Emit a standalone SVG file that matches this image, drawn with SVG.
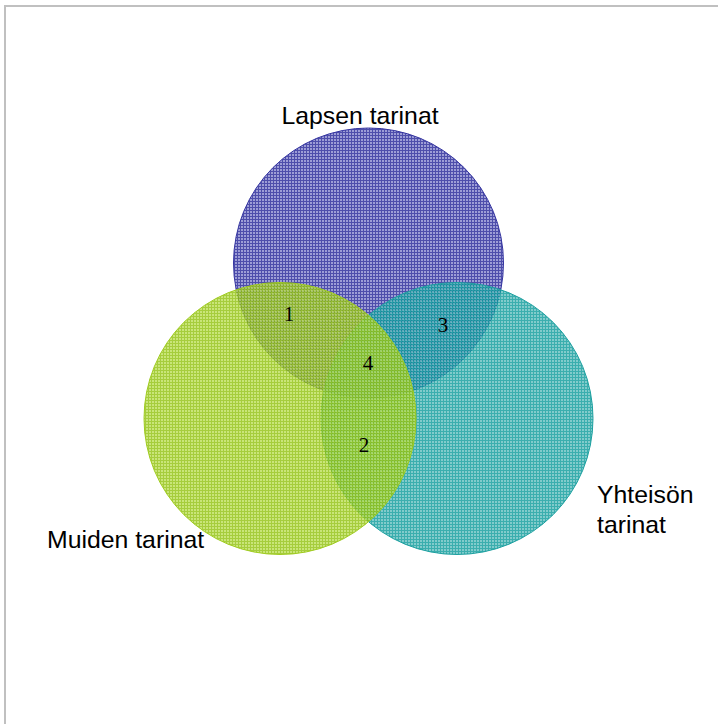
<svg xmlns="http://www.w3.org/2000/svg" width="718" height="724" viewBox="0 0 718 724">
<style>
.lbl{font-family:"Liberation Sans",Arial,sans-serif;font-size:24.8px;fill:#000}
.num{font-family:"Liberation Serif","Times New Roman",serif;font-size:21px;fill:#000;text-anchor:middle}
.c{fill-opacity:0.8;stroke-width:1}
</style>
<defs>
<pattern id="pBlue" width="3" height="3" patternUnits="userSpaceOnUse">
<rect width="3" height="3" fill="#8484cc"/>
<rect width="1" height="3" fill="#222296"/>
<rect width="3" height="1" fill="#222296"/>
</pattern>
<pattern id="pLime" x="1" y="1" width="3" height="3" patternUnits="userSpaceOnUse">
<rect width="3" height="3" fill="#bcdf58"/>
<rect width="1" height="3" fill="#90c00c"/>
<rect width="3" height="1" fill="#90c00c"/>
</pattern>
<pattern id="pTeal" x="2" y="2" width="3" height="3" patternUnits="userSpaceOnUse">
<rect width="3" height="3" fill="#62bebe"/>
<rect width="1" height="3" fill="#0a9a9a"/>
<rect width="3" height="1" fill="#0a9a9a"/>
</pattern>
</defs>
<rect x="0" y="0" width="718" height="724" fill="#fff"/>
<rect x="5" y="6" width="800" height="800" fill="none" stroke="#c0c0c0" stroke-width="2"/>
<g id="lapsen">
<circle class="c" cx="368.5" cy="263" r="135" fill="url(#pBlue)" stroke="#3434a0"/>
<text class="lbl" x="360" y="124" text-anchor="middle">Lapsen tarinat</text>
</g>
<g id="yhteison">
<circle class="c" cx="457" cy="418.5" r="136" fill="url(#pTeal)" stroke="#1ca0a0"/>
<text class="lbl" x="597" y="503">Yhteisön</text>
<text class="lbl" x="597" y="533">tarinat</text>
</g>
<g id="muiden">
<circle class="c" cx="280" cy="418.5" r="136" fill="url(#pLime)" stroke="#a0cc20"/>
<text class="lbl" x="47" y="548">Muiden tarinat</text>
</g>
<g id="numbers">
<text class="num" x="289" y="321">1</text>
<text class="num" x="443" y="332">3</text>
<text class="num" x="368" y="370">4</text>
<text class="num" x="364" y="452">2</text>
</g>
</svg>
